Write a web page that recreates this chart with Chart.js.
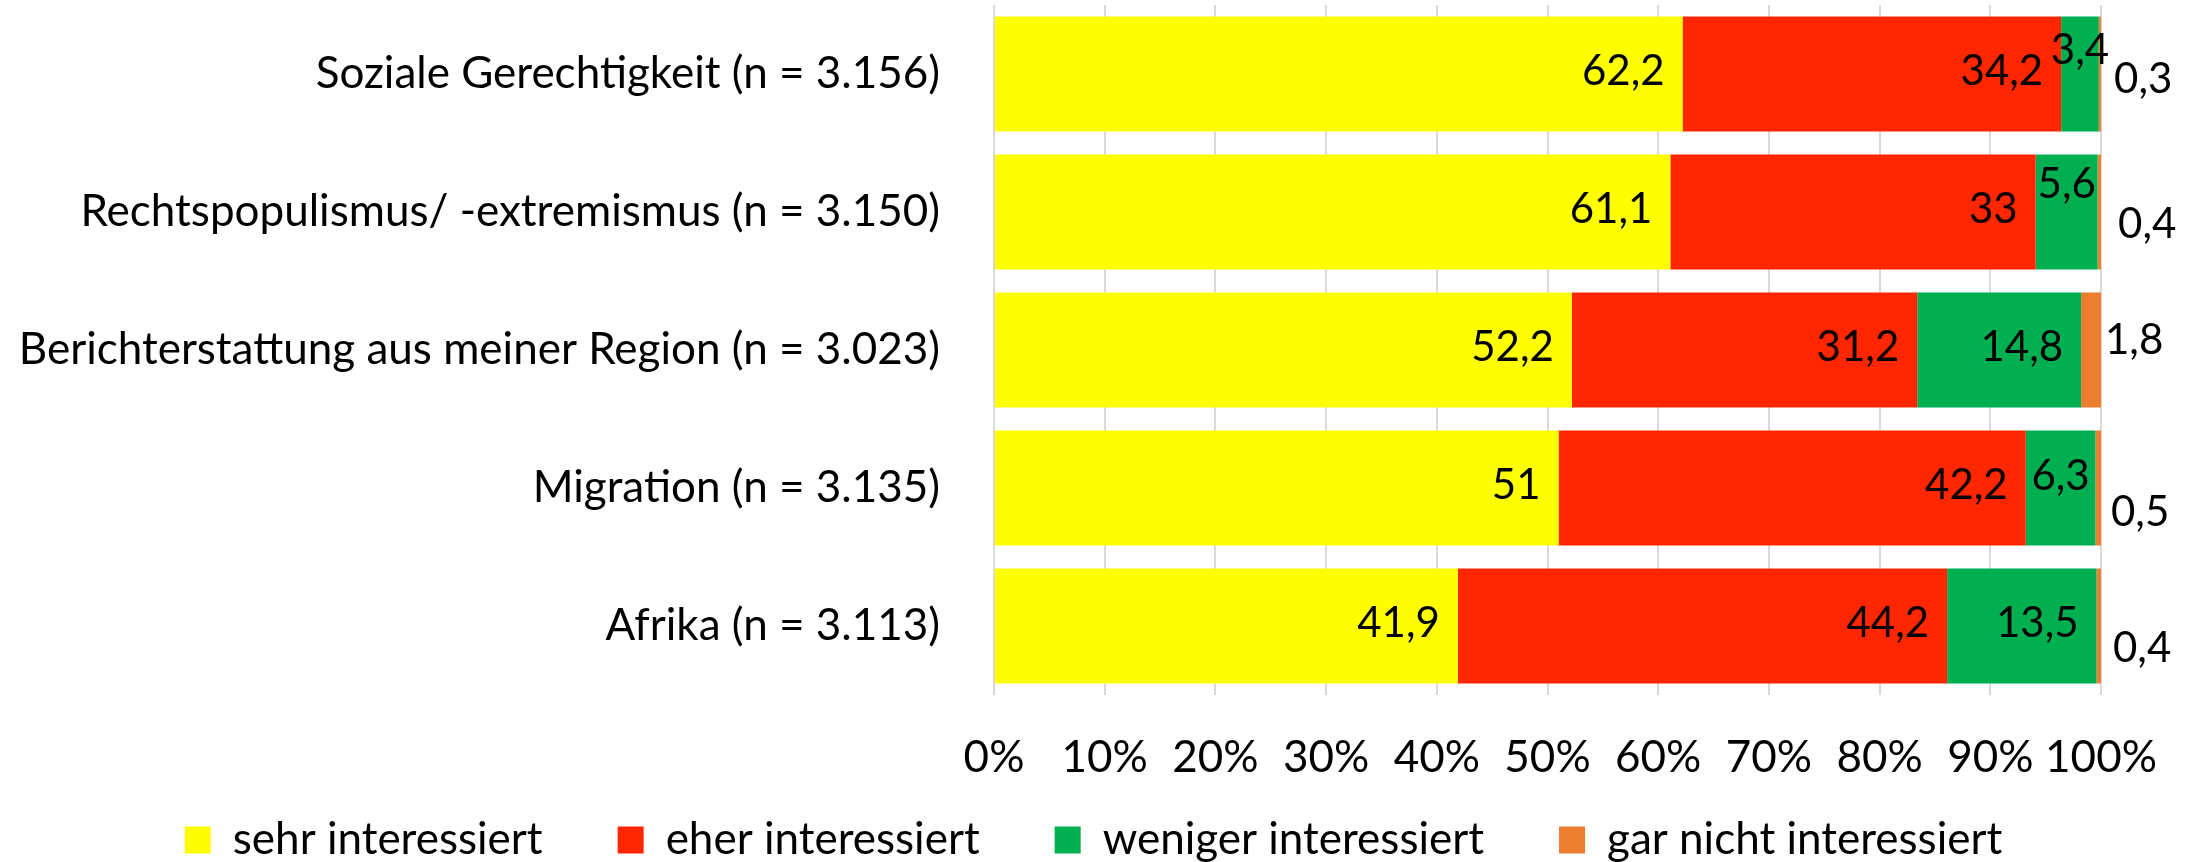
<!DOCTYPE html>
<html>
<head>
<meta charset="utf-8">
<script src="https://cdn.jsdelivr.net/npm/chart.js@4.4.0/dist/chart.umd.min.js"></script>
<style>
  html, body { margin: 0; padding: 0; background: #fff; overflow: hidden; }
  canvas { display: block; }
</style>
</head>
<body>
<canvas id="c" width="2187" height="862"></canvas>
<script>
// ---- data ----
const categories = [
  'Soziale Gerechtigkeit (n = 3.156)',
  'Rechtspopulismus/ -extremismus (n = 3.150)',
  'Berichterstattung aus meiner Region (n = 3.023)',
  'Migration (n = 3.135)',
  'Afrika (n = 3.113)'
];
const seriesNames = ['sehr interessiert', 'eher interessiert', 'weniger interessiert', 'gar nicht interessiert'];
const sehrInteressiert    = [62.2, 61.1, 52.2, 51.0, 41.9];
const eherInteressiert    = [34.2, 33.0, 31.2, 42.2, 44.2];
const wenigerInteressiert = [3.4, 5.6, 14.8, 6.3, 13.5];
const garNichtInteressiert = [0.3, 0.4, 1.8, 0.5, 0.4];
const tickLabels = ['0%', '10%', '20%', '30%', '40%', '50%', '60%', '70%', '80%', '90%', '100%'];

// ---- styling ----
const seriesColors = ['#FFFF00', '#FF2600', '#00B050', '#ED7D31'];
const FONT = 'Lato';
const FS = 44;        // axis + legend text
const FS_LABEL = 42;  // value labels
const X_LABEL_BAND = 80; // vertical room for the x tick labels
// label nudges (pixels, relative to the bar element)
const greenCenterDy = [-21, -25, null, -9, null];   // null = inside end
const orangeDx = [12, 16, 4, 10, 12];
const orangeDy = [8, 15, -7, 27, 25];

const fmt = v => String(v).replace('.', ',');

const valueLabels = {
  id: 'valueLabels',
  afterLayout(chart) {
    // give the x tick labels room to be drawn below the axis (they overlap the legend's top padding)
    const xs = chart.scales.x;
    xs.bottom = xs.top + X_LABEL_BAND;
    xs.height = X_LABEL_BAND;
  },
  afterDatasetsDraw(chart) {
    const ctx = chart.ctx;
    ctx.save();
    ctx.font = FS_LABEL + 'px ' + FONT;
    ctx.fillStyle = '#000';
    const capH = ctx.measureText('0').actualBoundingBoxAscent;
    chart.data.datasets.forEach((ds, di) => {
      const meta = chart.getDatasetMeta(di);
      meta.data.forEach((el, i) => {
        const v = ds.data[i];
        let x, align, dy = 0;
        if (di === 3) {
          x = el.x + orangeDx[i]; align = 'left'; dy = orangeDy[i];
        } else if (di === 2 && greenCenterDy[i] !== null) {
          x = (el.x + el.base) / 2; align = 'center'; dy = greenCenterDy[i];
        } else {
          x = el.x - 18; align = 'right';
        }
        ctx.textAlign = align;
        ctx.textBaseline = 'alphabetic';
        ctx.fillText(fmt(v), x, el.y + 2 + dy + capH / 2);
      });
    });
    ctx.restore();
  }
};

Chart.defaults.font.family = FONT;
Chart.defaults.font.size = FS;
Chart.defaults.color = '#000';

const seriesData = [sehrInteressiert, eherInteressiert, wenigerInteressiert, garNichtInteressiert];

new Chart(document.getElementById('c'), {
  type: 'bar',
  data: {
    labels: categories,
    datasets: seriesNames.map((name, k) => ({
      label: name,
      data: seriesData[k],
      backgroundColor: seriesColors[k],
      borderWidth: 0,
      categoryPercentage: 1.0,
      barPercentage: 0.833
    }))
  },
  options: {
    indexAxis: 'y',
    responsive: false,
    animation: false,
    devicePixelRatio: 1,
    layout: { padding: { left: 0, right: 0, top: 5, bottom: -10 } },
    scales: {
      x: {
        stacked: true,
        min: 0,
        max: 100,
        afterFit: s => { s.height = 48; s.paddingLeft = 0; s.paddingRight = 86; },
        border: { display: false },
        grid: { color: '#D9D9D9', lineWidth: 2, drawTicks: false },
        ticks: {
          stepSize: 10,
          padding: 36,
          maxRotation: 0,
          autoSkip: false,
          font: { size: FS },
          callback: (v, idx) => tickLabels[idx]
        }
      },
      y: {
        stacked: true,
        afterFit: s => { s.width = 994; s.paddingTop = 0; s.paddingBottom = 0; },
        border: { display: false },
        grid: { display: false, drawTicks: false },
        ticks: { padding: 54, font: { size: FS } }
      }
    },
    plugins: {
      legend: {
        position: 'bottom',
        labels: {
          boxWidth: 26,
          boxHeight: 27,
          padding: 75,
          font: { size: FS }
        }
      },
      tooltip: { enabled: false }
    }
  },
  plugins: [valueLabels]
});
</script>
</body>
</html>
